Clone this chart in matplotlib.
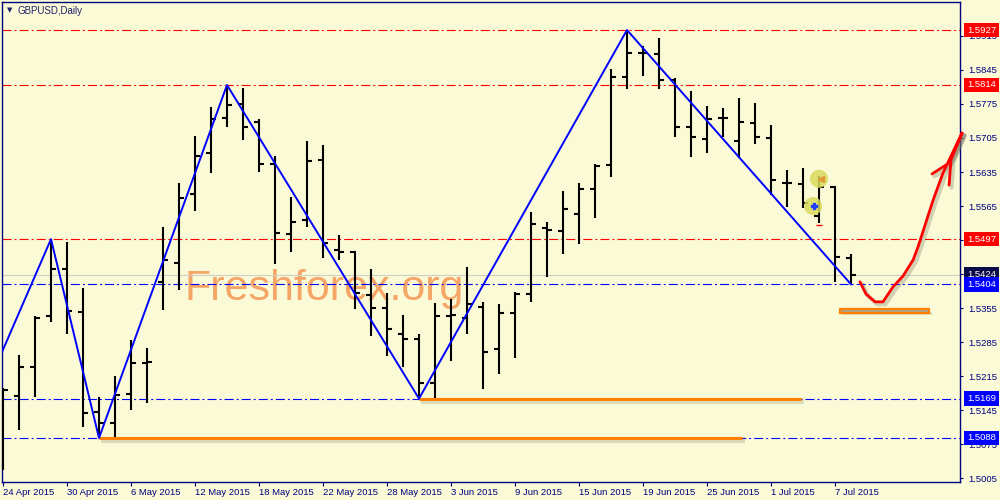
import matplotlib
matplotlib.use('Agg')
import matplotlib.pyplot as plt
import numpy as np
from matplotlib.patches import Rectangle

plt.rcParams['lines.scale_dashes'] = False
plt.rcParams['font.family'] = ['Liberation Sans', 'DejaVu Sans']

# ---------------- data ----------------
opens = [1.5150, 1.5174, 1.5234, 1.5339, 1.5436, 1.5347, 1.5141, 1.5119, 1.5178, 1.5242,
         1.5409, 1.5448, 1.5590, 1.5674, 1.5746, 1.5775, 1.5738, 1.5652, 1.5507, 1.5536,
         1.5660, 1.5475, 1.5471, 1.5382, 1.5355, 1.5302, 1.5292, 1.5201, 1.5339, 1.5335,
         1.5357, 1.5271, 1.5345, 1.5384, 1.5520, 1.5514, 1.5549, 1.5600, 1.5649, 1.5830,
         1.5880, 1.5878, 1.5824, 1.5728, 1.5703, 1.5746, 1.5699, 1.5736, 1.5705, 1.5612,
         1.5610, 1.5545, 1.5604, 1.5458]
highs = [1.5191, 1.5259, 1.5339, 1.5497, 1.5491, 1.5397, 1.5172, 1.5216, 1.5290, 1.5273,
         1.5522, 1.5612, 1.5709, 1.5769, 1.5814, 1.5808, 1.5744, 1.5668, 1.5584, 1.5699,
         1.5690, 1.5505, 1.5473, 1.5436, 1.5386, 1.5341, 1.5302, 1.5366, 1.5374, 1.5440,
         1.5368, 1.5364, 1.5388, 1.5553, 1.5532, 1.5596, 1.5612, 1.5652, 1.5847, 1.5927,
         1.5894, 1.5911, 1.5828, 1.5802, 1.5771, 1.5767, 1.5787, 1.5777, 1.5732, 1.5639,
         1.5643, 1.5627, 1.5606, 1.5466]
lows = [1.5022, 1.5104, 1.5172, 1.5327, 1.5302, 1.5111, 1.5088, 1.5090, 1.5146, 1.5160,
        1.5351, 1.5392, 1.5555, 1.5633, 1.5728, 1.5701, 1.5635, 1.5446, 1.5471, 1.5522,
        1.5458, 1.5454, 1.5353, 1.5298, 1.5257, 1.5234, 1.5169, 1.5171, 1.5246, 1.5302,
        1.5189, 1.5220, 1.5253, 1.5368, 1.5419, 1.5466, 1.5487, 1.5540, 1.5625, 1.5806,
        1.5832, 1.5806, 1.5707, 1.5666, 1.5674, 1.5707, 1.5664, 1.5693, 1.5588, 1.5563,
        1.5561, 1.5530, 1.5409, 1.5404]
closes = [1.5187, 1.5234, 1.5335, 1.5436, 1.5349, 1.5139, 1.5119, 1.5176, 1.5242, 1.5244,
          1.5454, 1.5582, 1.5668, 1.5744, 1.5773, 1.5728, 1.5652, 1.5510, 1.5532, 1.5658,
          1.5489, 1.5471, 1.5386, 1.5355, 1.5312, 1.5292, 1.5201, 1.5339, 1.5340, 1.5364,
          1.5265, 1.5345, 1.5384, 1.5528, 1.5516, 1.5559, 1.5600, 1.5647, 1.5830, 1.5880,
          1.5880, 1.5824, 1.5728, 1.5707, 1.5744, 1.5746, 1.5738, 1.5707, 1.5619, 1.5612,
          1.5571, 1.5604, 1.5460, 1.5424]

date_tick_idx = [0, 4, 8, 12, 16, 20, 24, 28, 32, 36, 40, 44, 48, 52]
date_labels = ['24 Apr 2015', '30 Apr 2015', '6 May 2015', '12 May 2015', '18 May 2015',
               '22 May 2015', '28 May 2015', '3 Jun 2015', '9 Jun 2015', '15 Jun 2015',
               '19 Jun 2015', '25 Jun 2015', '1 Jul 2015', '7 Jul 2015']

price_ticks = [1.5005, 1.5075, 1.5145, 1.5215, 1.5285, 1.5355, 1.5425, 1.5495,
               1.5565, 1.5635, 1.5705, 1.5775, 1.5845, 1.5915]

zigzag_x = [-0.06, 3, 6, 14, 26, 39, 53]
zigzag_y = [1.5265, 1.5497, 1.5088, 1.5814, 1.5169, 1.5927, 1.5404]

red_levels = [1.5927, 1.5814, 1.5497]
blue_levels = [1.5404, 1.5169, 1.5088]
current_price = 1.5424

support_levels = [1.5088, 1.5169]
support_start = [6.0, 26.0]
support_end = [46.2, 49.9]

zone_x0, zone_x1 = 52.3, 57.9
zone_lo, zone_hi = 1.5345, 1.5353

arrow_x = [53.56, 53.94, 54.5, 55.0, 55.63, 56.25, 56.88, 57.19, 57.63, 58.13, 58.75, 59.94]
arrow_y = [1.5409, 1.5384, 1.5368, 1.5368, 1.5399, 1.5421, 1.5454, 1.5481, 1.5526, 1.5577, 1.5633, 1.5715]
wing1_x = [58.06, 59.06, 59.94]
wing1_y = [1.5631, 1.5652, 1.5715]
wing2_x = [59.94, 59.25, 59.13]
wing2_y = [1.5715, 1.5660, 1.5608]

circle_x = [51.0, 50.63]
circle_y = [1.5621, 1.5565]

# ---------------- style ----------------
BG = '#fafad6'
NAVY = '#000080'
FS = 6.8

fig = plt.figure(figsize=(10, 5), dpi=100, facecolor=BG)
ax = fig.add_axes([0.002, 0.036, 0.958, 0.96])
ax.set_facecolor(BG)
ax.set_xlim(-0.0625, 59.8125)
ax.set_ylim(1.49975, 1.59846)

idx = np.arange(len(opens))

# watermark
ax.text(11.375, 1.5372, 'Freshforex.org', fontsize=31, color='#f5a566',
        ha='left', va='baseline', zorder=1)

# level lines
dd = (6.5, 2.2, 1.4, 2.2)
for lv in red_levels:
    ax.axhline(lv, color='#ff0000', lw=0.8, dashes=dd, zorder=2)
for lv in blue_levels:
    ax.axhline(lv, color='#0000ff', lw=0.8, dashes=dd, zorder=2)
ax.axhline(current_price, color='#cfcfc4', lw=0.8, zorder=2)

# orange support lines with shadow
for lv, s, e in zip(support_levels, support_start, support_end):
    ax.plot([s + 0.15, e + 0.15], [lv - 0.0005, lv - 0.0005], color='#808070', alpha=0.25,
            lw=4.5, solid_capstyle='butt', zorder=2.5)
    ax.plot([s, e], [lv, lv], color='#ff8000', lw=2.2, solid_capstyle='butt', zorder=3)

# target zone rectangle
ax.add_patch(Rectangle((zone_x0 + 0.15, zone_lo - 0.0005), zone_x1 - zone_x0, zone_hi - zone_lo,
                       fc='#808070', ec='none', alpha=0.25, zorder=2.5))
ax.add_patch(Rectangle((zone_x0, zone_lo), zone_x1 - zone_x0, zone_hi - zone_lo,
                       fc='#a9a890', ec='#ff8000', lw=1.6, zorder=3))

# OHLC bars
ax.vlines(idx, lows, highs, color='black', lw=1.5, zorder=4)
ax.hlines(opens, idx - 0.33, idx, color='black', lw=1.5, zorder=4)
ax.hlines(closes, idx, idx + 0.33, color='black', lw=1.5, zorder=4)

# zigzag
ax.plot(zigzag_x, zigzag_y, color='#0000ff', lw=1.4, zorder=5)

# circles / trade markers
ax.scatter(circle_x, circle_y, s=170, color='#dada5c', alpha=0.85, edgecolors='none', zorder=6)
ax.plot([circle_x[0] + 0.1], [circle_y[0]], marker='<', color='#e09a30', ms=4, zorder=7)
ax.plot([circle_x[1] + 0.05], [circle_y[1]], marker='P', color='#2040ff', ms=4, zorder=7)
ax.hlines([1.5526], [50.8], [51.2], color='#ff0000', lw=1, zorder=6)

# red hand-drawn arrow with shadow
for xs, ys in [(arrow_x, arrow_y), (wing1_x, wing1_y), (wing2_x, wing2_y)]:
    ax.plot(np.array(xs) + 0.15, np.array(ys) - 0.0005, color='#707060', alpha=0.3, lw=3.0,
            solid_capstyle='round', clip_on=False, zorder=7)
    ax.plot(xs, ys, color='#ff0000', lw=2.0, solid_capstyle='round', solid_joinstyle='round',
            clip_on=False, zorder=8)

# axes styling
for sp in ax.spines.values():
    sp.set_color(NAVY)
    sp.set_linewidth(1.0)

ax.yaxis.tick_right()
ax.set_yticks(price_ticks)
ax.set_yticklabels([f'{p:.4f}' for p in price_ticks])
ax.tick_params(axis='y', direction='out', length=2.5, width=0.8, colors=NAVY,
               labelsize=FS, pad=3.5, left=False, right=True)
ax.set_xticks(date_tick_idx)
ax.set_xticklabels(date_labels, ha='left')
ax.tick_params(axis='x', direction='out', length=3, width=0.8, colors=NAVY,
               labelsize=FS, pad=1.2)

# price label boxes on the right
box_levels = red_levels + [current_price] + blue_levels
box_colors = ['#ff0000'] * 3 + ['#0b0b48'] + ['#0000ff'] * 3
for lv, c in zip(box_levels, box_colors):
    ax.text(1.0073, lv, f'{lv:.4f}', transform=ax.get_yaxis_transform(), ha='left', va='center',
            color='white', fontsize=FS, clip_on=False, zorder=10,
            bbox=dict(boxstyle='square,pad=0.3', fc=c, ec='none'))

# title
fig.text(0.0065, 1 - 10.5 / 500, '\u25bc', fontsize=5, color='#1f1f6b', va='center',
         family='DejaVu Sans')
fig.text(0.018, 1 - 10.5 / 500, 'GBPUSD,Daily', fontsize=7, color='#1f1f6b', va='center')

fig.savefig('out.png', dpi=100, facecolor=BG)
